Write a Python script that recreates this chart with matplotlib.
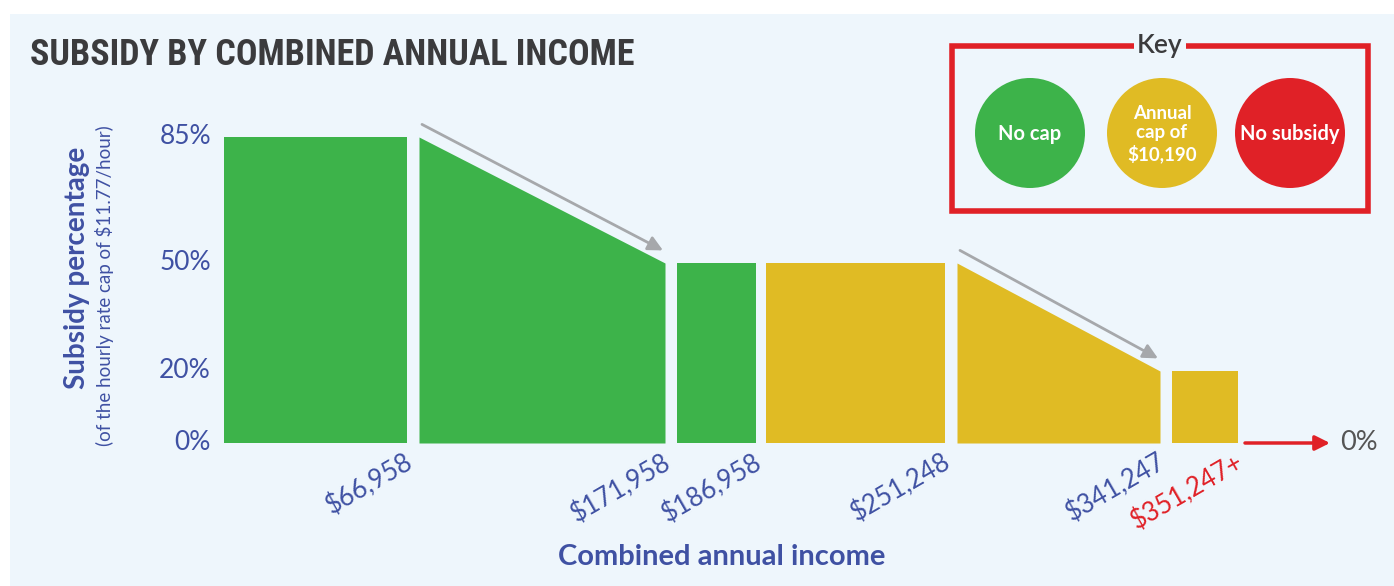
import matplotlib.pyplot as plt
from matplotlib import font_manager
from matplotlib.patches import Rectangle, Circle

# data
income_labels = ["$66,958", "$171,958", "$186,958", "$251,248", "$341,247", "$351,247+"]
pct_start = [85, 85, 50, 50, 50, 20]
pct_end = [85, 50, 50, 50, 20, 20]
seg_type = ["no cap", "no cap", "no cap", "cap", "cap", "cap"]
y_ticks = [0, 20, 50, 85]
key_labels = ["No cap", "Annual\ncap of\n$10,190", "No subsidy"]

# layout (pixel positions of segments)
seg_left = [224, 419, 677, 766, 957, 1172]
seg_right = [407, 665, 756, 945, 1160, 1238]

GREEN = "#3db34a"
YELLOW = "#e0bb24"
RED = "#e02127"
GREY = "#a6a8ab"
BLUE = "#3f51a3"
BG = "#eef6fc"
DARK = "#3b3b3d"
colors = {"no cap": GREEN, "cap": YELLOW}
FONT = "Lato"

# pick a narrow font for the title if one is around
names = {f.name for f in font_manager.fontManager.ttflist}
stretches = {(f.name, f.stretch) for f in font_manager.fontManager.ttflist}
title_font = "DejaVu Sans"
title_stretch = "normal"
for cand in ["Roboto Condensed", "Liberation Sans Narrow", "DejaVu Sans Condensed", "Open Sans Condensed"]:
    if cand in names:
        title_font = cand
        break
else:
    if any(n == "DejaVu Sans" and s == "condensed" for n, s in stretches):
        title_stretch = "condensed"

W, H = 1394, 586
fig = plt.figure(figsize=(W / 100, H / 100), dpi=100)
fig.patch.set_facecolor("white")

# overlay in pixel coords
ov = fig.add_axes([0, 0, 1, 1])
ov.set_xlim(0, W)
ov.set_ylim(H, 0)
ov.axis("off")
ov.add_patch(Rectangle((10, 14), W, H, facecolor=BG, edgecolor="none"))

# main axes: y=0 at pixel 443, y=85 at pixel 137
y0px, y85px = 443, 137
ax = fig.add_axes([0, (H - y0px) / H, 1, (y0px - y85px) / H])
ax.set_xlim(0, W)
ax.set_ylim(0, 85)
ax.axis("off")

for i in range(len(pct_start)):
    ax.fill_between([seg_left[i], seg_right[i]], [0, 0], [pct_start[i], pct_end[i]],
                    color=colors[seg_type[i]], lw=0)

# slope arrows
for i in range(len(pct_start)):
    if pct_start[i] != pct_end[i]:
        ax.annotate("", xy=(seg_right[i] - 2, pct_end[i] + 3.5),
                    xytext=(seg_left[i] + 3, pct_start[i] + 3.5),
                    arrowprops=dict(arrowstyle="-|>", color=GREY, lw=2,
                                    mutation_scale=22, shrinkA=0, shrinkB=0))

# red arrow to 0%
ax.annotate("", xy=(1330, 0), xytext=(1245, 0),
            arrowprops=dict(arrowstyle="-|>", color=RED, lw=2.5,
                            mutation_scale=22, shrinkA=0, shrinkB=0),
            annotation_clip=False)
ax.text(1340, 0, "0%", fontsize=19.5, color="#555555", family=FONT,
        va="center", ha="left", clip_on=False)

# y tick labels
for t in y_ticks:
    ax.text(211, t, f"{t}%", fontsize=19, color=BLUE, family=FONT,
            ha="right", va="center", clip_on=False)

# x tick labels
for i, lab in enumerate(income_labels):
    c = RED if lab.endswith("+") else BLUE
    ax.text(seg_right[i] - 3, -1.6, lab, fontsize=18.5, color=c, family=FONT,
            rotation=30, rotation_mode="anchor", ha="right", va="top", clip_on=False)

# titles and axis labels
title = ov.text(30, 55, "SUBSIDY BY COMBINED ANNUAL INCOME", fontsize=31, fontweight="bold",
                family=title_font, fontstretch=title_stretch, color=DARK,
                ha="left", va="center")
# squeeze the title to the reference width
r = fig.canvas.get_renderer()
tw = title.get_window_extent(r).width
if tw > 605:
    title.set_fontsize(31 * 605 / tw)

ov.text(77, 268, "Subsidy percentage", fontsize=20, fontweight="bold", color=BLUE,
        family=FONT, rotation=90, ha="center", va="center")
ov.text(105, 286, "(of the hourly rate cap of $11.77/hour)", fontsize=13.5, color=BLUE,
        family=FONT, rotation=90, ha="center", va="center")
ov.text(722, 557, "Combined annual income", fontsize=21, fontweight="bold", color=BLUE,
        family=FONT, ha="center", va="center")

# key
ov.add_patch(Rectangle((952, 46), 416, 165, facecolor="none", edgecolor=RED, lw=4))
ov.text(1160, 46, "Key", fontsize=19, color=DARK, family=FONT, fontweight="semibold",
        ha="center", va="center", bbox=dict(facecolor=BG, edgecolor="none", pad=2))
key_colors = [GREEN, YELLOW, RED]
key_x = [1030, 1162, 1290]
for kx, kc, kl in zip(key_x, key_colors, key_labels):
    ov.add_patch(Circle((kx, 133), 55, facecolor=kc, edgecolor="none"))
    fs = 13.5 if "\n" in kl else 14.5
    ov.text(kx, 134, kl, fontsize=fs, fontweight="bold", color="white", family=FONT,
            ha="center", va="center", linespacing=1.2)

fig.savefig("out.png", dpi=100, facecolor=fig.get_facecolor())
